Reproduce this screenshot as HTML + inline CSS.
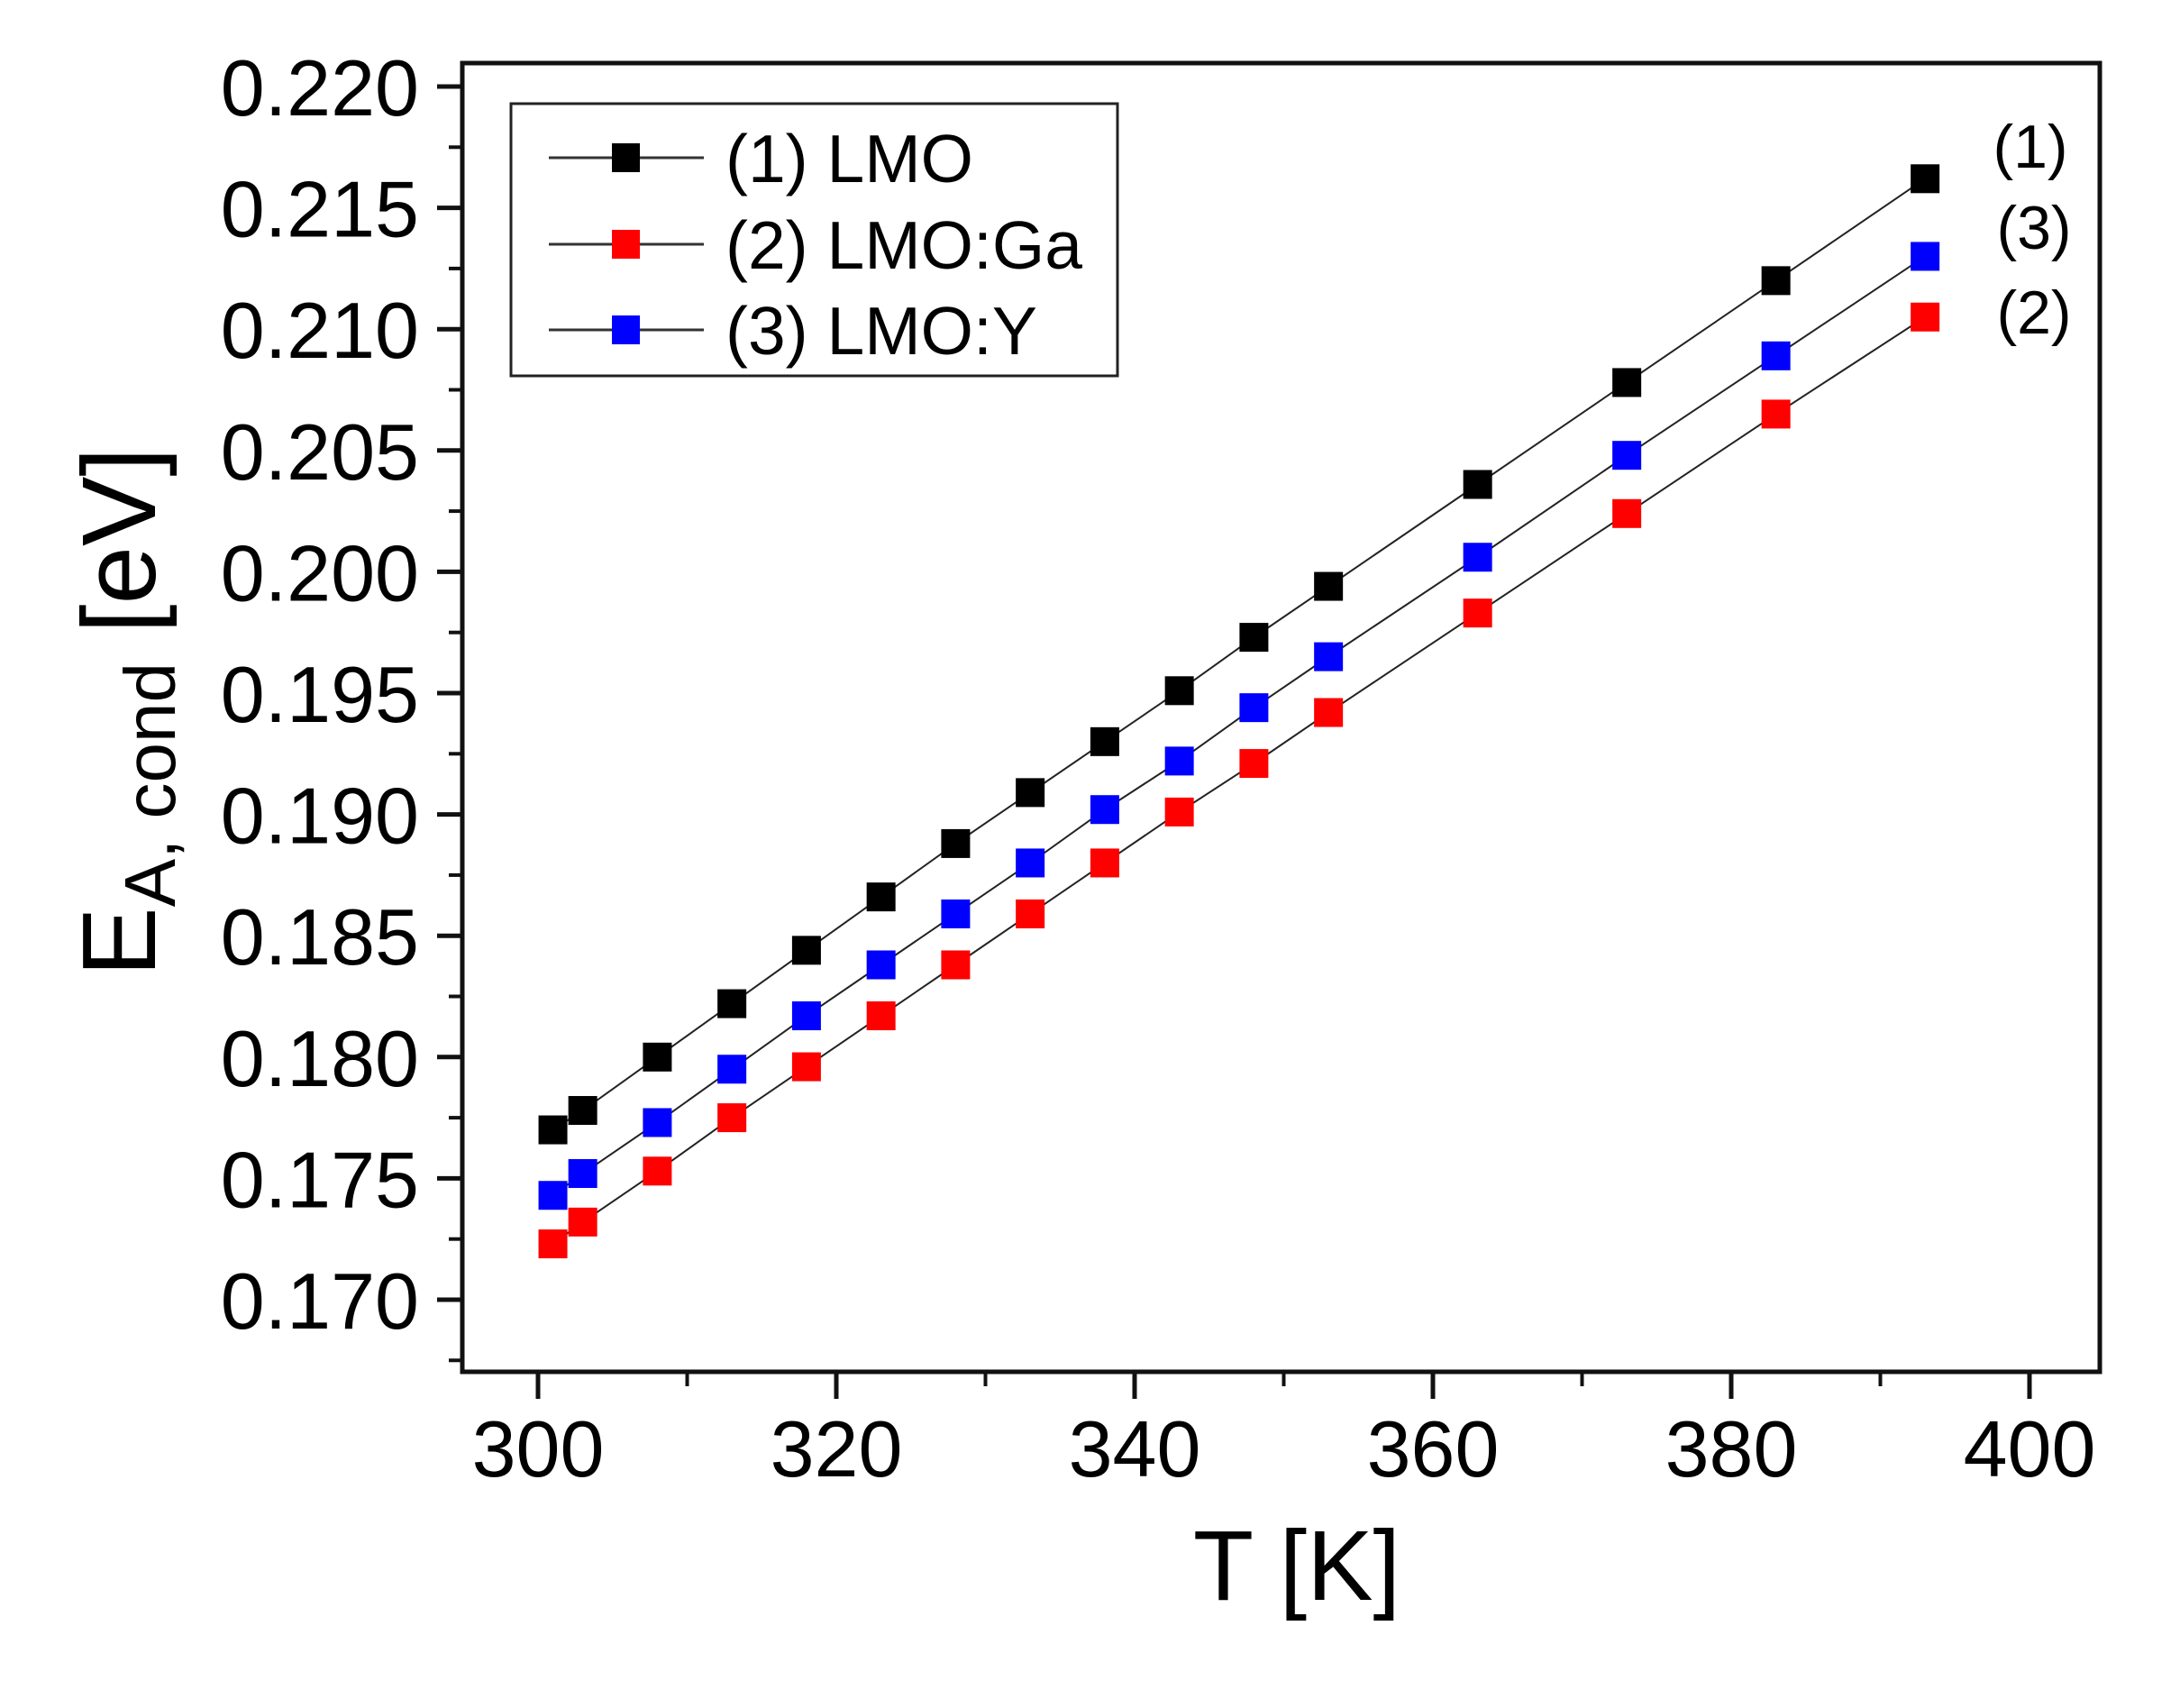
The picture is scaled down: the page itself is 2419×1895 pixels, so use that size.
<!DOCTYPE html>
<html><head><meta charset="utf-8"><style>
html,body{margin:0;padding:0;background:#fff;}
svg{display:block;font-family:"Liberation Sans",Arial,sans-serif;}
</style></head><body>
<svg id="chart" width="2419" height="1895" viewBox="0 0 2419 1895" xmlns="http://www.w3.org/2000/svg">
<rect x="0" y="0" width="2419" height="1895" fill="#fff"/>
<g id="grid-layer"></g>
<rect x="513" y="70" width="1817" height="1452" fill="none" stroke="#111" stroke-width="5"/>
<g id="axes"></g>
<g id="series"></g>
<text x="1439" y="1775" font-size="110" text-anchor="middle" fill="#000">T [K]</text>
<text transform="translate(172,790) rotate(-90)" font-size="116" text-anchor="middle" fill="#000">E<tspan font-size="80" dy="22">A, cond</tspan><tspan dy="-22"> [eV]</tspan></text>
<g>
<rect x="567" y="115" width="673" height="302" fill="#fff" stroke="#222" stroke-width="3"/>
<g id="legend-entries"></g>
</g>
<text x="2253" y="186" font-size="68" text-anchor="middle">(1)</text>
<text x="2257" y="276" font-size="68" text-anchor="middle">(3)</text>
<text x="2257" y="370" font-size="68" text-anchor="middle">(2)</text>
</svg>
<script>
const temps = [301,303,308,313,318,323,328,333,338,343,348,353,363,373,383,393];
const lmo   = [0.1770,0.1778,0.1800,0.1822,0.1844,0.1866,0.1888,0.1909,0.1930,0.1951,0.1973,0.1994,0.2036,0.2078,0.2120,0.2162];
const lmoGa = [0.1723,0.1732,0.1753,0.1775,0.1796,0.1817,0.1838,0.1859,0.1880,0.1901,0.1921,0.1942,0.1983,0.2024,0.2065,0.2105];
const lmoY  = [0.1743,0.1752,0.1773,0.1795,0.1817,0.1838,0.1859,0.1880,0.1902,0.1922,0.1944,0.1965,0.2006,0.2048,0.2089,0.2130];
const xTicks = [300,320,340,360,380,400];
const yTicks = [0.170,0.175,0.180,0.185,0.190,0.195,0.200,0.205,0.210,0.215,0.220];
const yTickLabels = ["0.170","0.175","0.180","0.185","0.190","0.195","0.200","0.205","0.210","0.215","0.220"];
const seriesNames = ["(1) LMO","(2) LMO:Ga","(3) LMO:Y"];

const NS="http://www.w3.org/2000/svg";
function X(t){return 597+(t-300)*16.55;}
function Y(v){return 1442-(v-0.170)*26920;}
function mk(tag,attrs,parent){const e=document.createElementNS(NS,tag);for(const k in attrs)e.setAttribute(k,attrs[k]);parent.appendChild(e);return e;}
const axes=document.getElementById('axes');
const bottom=1522,left=513;
xTicks.forEach((t,i)=>{
  const l=mk('line',{x1:X(t),x2:X(t),y1:bottom,y2:bottom+30,stroke:'#111','stroke-width':5},axes);
  
  
  const tx=mk('text',{x:X(t),y:1638,'font-size':88,'text-anchor':'middle'},axes);
  
  
  tx.textContent=String(t);
  if(i<xTicks.length-1){
    const m=mk('line',{x1:X(t+10),x2:X(t+10),y1:bottom,y2:bottom+16,stroke:'#111','stroke-width':4},axes);
    
    
  }
});
yTicks.forEach((v,i)=>{
  const l=mk('line',{x1:left-28,x2:left,y1:Y(v),y2:Y(v),stroke:'#111','stroke-width':5},axes);
  
  
  const tx=mk('text',{x:465,y:Y(v)+32,'font-size':88,'text-anchor':'end'},axes);
  
  
  tx.textContent=yTickLabels[i];
  const m=mk('line',{x1:left-15,x2:left,y1:Y(v-0.0025),y2:Y(v-0.0025),stroke:'#111','stroke-width':4},axes);
  
  
});
const ser=document.getElementById('series');
const allSeries=[[lmo,'#000','lmo'],[lmoGa,'#f00','lmo-ga'],[lmoY,'#00f','lmo-y']];
allSeries.forEach(([vals,col,nm])=>{
  const pts=temps.map((t,i)=>X(t)+','+Y(vals[i])).join(' ');
  const pl=mk('polyline',{points:pts,fill:'none',stroke:'#222','stroke-width':2},ser);
  
  
  temps.forEach((t,i)=>{
    const r=mk('rect',{x:X(t)-16,y:Y(vals[i])-16,width:32,height:32,fill:col},ser);
    
    
  });
});
const leg=document.getElementById('legend-entries');
const rowsY=[175,271,366];
allSeries.forEach(([vals,col,nm],i)=>{
  const y=rowsY[i];
  const l=mk('line',{x1:609,x2:781,y1:y,y2:y,stroke:'#333','stroke-width':3},leg);
  
  
  const r=mk('rect',{x:679,y:y-16,width:31,height:32,fill:col},leg);
  
  
  const tx=mk('text',{x:805,y:y+27,'font-size':75},leg);
  
  
  tx.textContent=seriesNames[i];
});
</script>
</body></html>
